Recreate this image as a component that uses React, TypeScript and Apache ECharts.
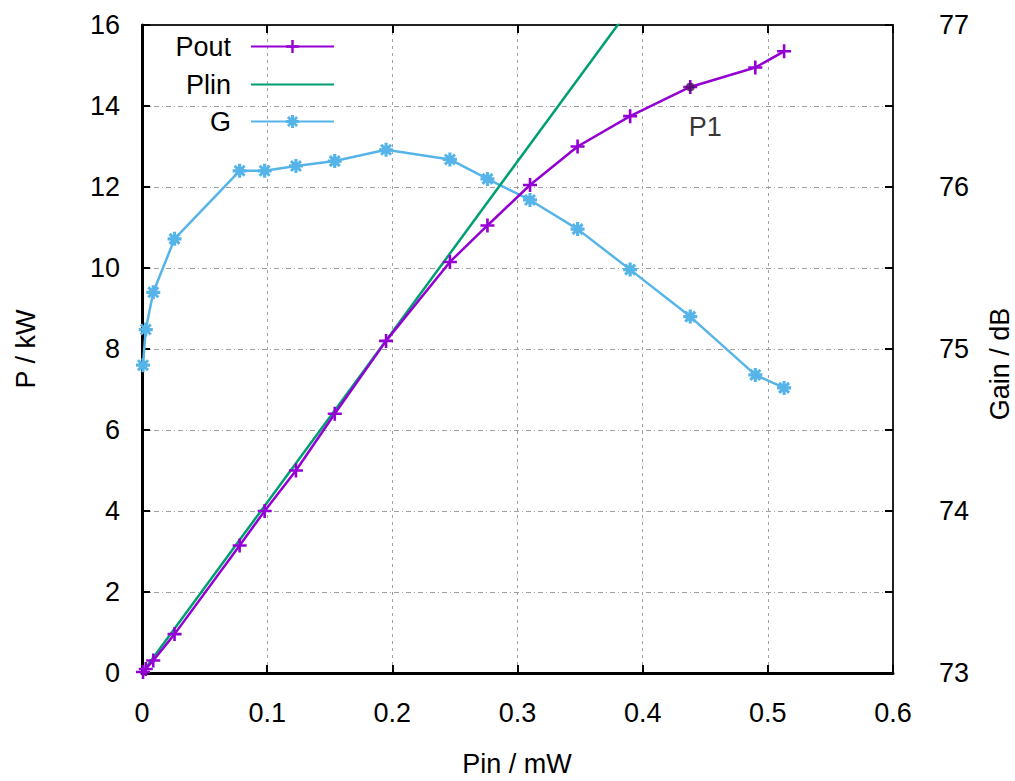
import React, { useEffect, useRef } from "react";
import * as echarts from "echarts";

// Input power (mW)
const pin = [0.0008, 0.003, 0.009, 0.026, 0.078, 0.098, 0.123, 0.154, 0.195, 0.246, 0.276, 0.31, 0.348, 0.39, 0.438, 0.49, 0.513];
// Output power (kW)
const pout = [0.025, 0.1, 0.31, 0.96, 3.15, 4.0, 5.0, 6.4, 8.2, 10.15, 11.05, 12.05, 13.0, 13.75, 14.47, 14.95, 15.35];
// Gain (dB)
const gain = [74.9, 75.12, 75.35, 75.68, 76.1, 76.1, 76.13, 76.16, 76.23, 76.17, 76.05, 75.92, 75.74, 75.49, 75.2, 74.84, 74.76];
// Linear extrapolation
const plinPin = [0, 0.6];
const plinP = [0, 25.26];
// Marked point
const p1Index = 14;
const p1Label = "P1";

const xTicks = { min: 0, max: 0.6, interval: 0.1 };
const yLeft = { min: 0, max: 16, interval: 2 };
const yRight = { min: 73, max: 77, interval: 0.5 };

const FONT = "Liberation Sans, Arial, sans-serif";
const FS = 27;

const plusPath =
  "path://M-1.3,-7L1.3,-7L1.3,-1.3L7,-1.3L7,1.3L1.3,1.3L1.3,7L-1.3,7L-1.3,1.3L-7,1.3L-7,-1.3L-1.3,-1.3Z";
const starPath =
  "path://M-1.6,-7L1.6,-7L1.6,7L-1.6,7Z M-7,-1.6L7,-1.6L7,1.6L-7,1.6Z M-3.94,-6.06L6.06,3.94L3.94,6.06L-6.06,-3.94Z M6.06,-3.94L-3.94,6.06L-6.06,3.94L3.94,-6.06Z";

const C_POUT = "#9400d3";
const C_PLIN = "#009e73";
const C_G = "#56b4e9";

export default function App() {
  const ref = useRef<HTMLDivElement>(null);
  useEffect(() => {
    document.body.style.margin = "0";
    const chart = echarts.init(ref.current!, null, { renderer: "svg" });
    const gridH = { type: [5, 3, 1, 3], color: "#a0a0a0", width: 1 };
    const gridV = { type: [3, 4], color: "#a0a0a0", width: 1 };
    const legendBase = {
      orient: "horizontal",
      align: "right",
      right: 1015 - 335,
      padding: 0,
      itemWidth: 83,
      itemHeight: 16,
      textStyle: { fontFamily: FONT, fontSize: FS, color: "#000", padding: [0, 15, 0, 0] },
      selectedMode: false,
    };
    chart.setOption({
      animation: false,
      backgroundColor: "#fff",
      grid: { left: 142, right: 122, top: 25, bottom: 108, containLabel: false },
      legend: [
        { ...legendBase, top: 33, data: ["Pout"] },
        { ...legendBase, top: 71, data: [{ name: "Plin", itemStyle: { opacity: 0 } }] },
        { ...legendBase, top: 108, data: ["G"] },
      ],
      xAxis: [
        {
          type: "value",
          position: "bottom",
          ...xTicks,
          axisLine: { show: true, onZero: false, lineStyle: { color: "#000", width: 3 } },
          axisTick: { show: true, inside: true, length: 8, lineStyle: { color: "#000", width: 2 } },
          axisLabel: { fontFamily: FONT, fontSize: FS, color: "#000", margin: 26 },
          splitLine: { show: true, lineStyle: gridV },
        },
        {
          type: "value",
          position: "top",
          ...xTicks,
          axisLine: { show: true, onZero: false, lineStyle: { color: "#222", width: 2 } },
          axisTick: { show: true, inside: true, length: 8, lineStyle: { color: "#000", width: 2 } },
          axisLabel: { show: false },
          splitLine: { show: false },
        },
      ],
      yAxis: [
        {
          type: "value",
          position: "left",
          ...yLeft,
          axisLine: { show: true, onZero: false, lineStyle: { color: "#000", width: 3 } },
          axisTick: { show: true, inside: true, length: 8, lineStyle: { color: "#000", width: 2 } },
          axisLabel: { fontFamily: FONT, fontSize: FS, color: "#000", margin: 22 },
          splitLine: { show: true, lineStyle: gridH },
        },
        {
          type: "value",
          position: "right",
          ...yRight,
          axisLine: { show: true, onZero: false, lineStyle: { color: "#222", width: 2 } },
          axisTick: { show: true, inside: true, length: 8, lineStyle: { color: "#000", width: 2 } },
          axisLabel: {
            fontFamily: FONT,
            fontSize: FS,
            color: "#000",
            margin: 46,
            formatter: (v: number) => (Math.abs(v - Math.round(v)) < 1e-6 ? String(Math.round(v)) : ""),
          },
          splitLine: { show: false },
        },
      ],
      series: [
        {
          name: "G",
          type: "line",
          yAxisIndex: 1,
          data: pin.map((x, i) => [x, gain[i]]),
          symbol: starPath,
          symbolSize: 14,
          lineStyle: { color: C_G, width: 2.5 },
          itemStyle: { color: C_G },
          z: 2,
        },
        {
          name: "Plin",
          type: "line",
          data: plinPin.map((x, i) => [x, plinP[i]]),
          symbol: "none",
          lineStyle: { color: C_PLIN, width: 2.5 },
          itemStyle: { color: C_PLIN },
          clip: true,
          z: 3,
        },
        {
          name: "Pout",
          type: "line",
          data: pin.map((x, i) => [x, pout[i]]),
          symbol: plusPath,
          symbolSize: 14,
          lineStyle: { color: C_POUT, width: 2.5 },
          itemStyle: { color: C_POUT },
          z: 4,
        },
        {
          name: p1Label,
          type: "scatter",
          data: [[pin[p1Index], pout[p1Index]]],
          symbol: "circle",
          symbolSize: 9,
          itemStyle: { color: "#4b1060" },
          label: {
            show: true,
            position: "inside",
            offset: [15, 40],
            formatter: p1Label,
            fontFamily: FONT,
            fontSize: FS,
            color: "#000",
          },
          z: 5,
        },
      ],
      graphic: [
        {
          type: "text",
          x: 26,
          y: 349,
          rotation: Math.PI / 2,
          style: { text: "P / kW", fontFamily: FONT, fontSize: FS, fill: "#000", align: "center", verticalAlign: "middle" },
        },
        {
          type: "text",
          x: 1000,
          y: 364,
          rotation: Math.PI / 2,
          style: { text: "Gain / dB", fontFamily: FONT, fontSize: FS, fill: "#000", align: "center", verticalAlign: "middle" },
        },
        {
          type: "text",
          x: 517,
          y: 764,
          style: { text: "Pin / mW", fontFamily: FONT, fontSize: FS, fill: "#000", align: "center", verticalAlign: "middle" },
        },
      ],
    });
    return () => chart.dispose();
  }, []);
  return <div ref={ref} style={{ width: 1015, height: 781 }} />;
}
